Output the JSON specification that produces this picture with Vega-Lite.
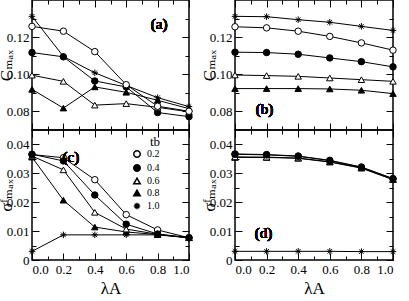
{
  "$schema": "https://vega.github.io/schema/vega-lite/v6.json",
  "padding": {"left": -4, "top": -2, "right": 4, "bottom": 0},
  "background": "white",
  "datasets": {
    "a": [
      {"lam":0,"tb":"1.0","v":0.1312},{"lam":0.2,"tb":"1.0","v":0.1096},{"lam":0.4,"tb":"1.0","v":0.1008},{"lam":0.6,"tb":"1.0","v":0.0940},{"lam":0.8,"tb":"1.0","v":0.0874},{"lam":1.0,"tb":"1.0","v":0.0826},
      {"lam":0,"tb":"0.8","v":0.0919},{"lam":0.2,"tb":"0.8","v":0.0818},{"lam":0.4,"tb":"0.8","v":0.0932},{"lam":0.6,"tb":"0.8","v":0.0903},{"lam":0.8,"tb":"0.8","v":0.0860},{"lam":1.0,"tb":"0.8","v":0.0815},
      {"lam":0,"tb":"0.4","v":0.1117},{"lam":0.2,"tb":"0.4","v":0.1094},{"lam":0.4,"tb":"0.4","v":0.0964},{"lam":0.6,"tb":"0.4","v":0.0932},{"lam":0.8,"tb":"0.4","v":0.0794},{"lam":1.0,"tb":"0.4","v":0.0772},
      {"lam":0,"tb":"0.6","v":0.0995},{"lam":0.2,"tb":"0.6","v":0.0962},{"lam":0.4,"tb":"0.6","v":0.0834},{"lam":0.6,"tb":"0.6","v":0.0842},{"lam":0.8,"tb":"0.6","v":0.0822},{"lam":1.0,"tb":"0.6","v":0.0798},
      {"lam":0,"tb":"0.2","v":0.1258},{"lam":0.2,"tb":"0.2","v":0.1232},{"lam":0.4,"tb":"0.2","v":0.1122},{"lam":0.6,"tb":"0.2","v":0.0944},{"lam":0.8,"tb":"0.2","v":0.0828},{"lam":1.0,"tb":"0.2","v":0.0801}
    ],
    "b": [
      {"lam":0,"tb":"1.0","v":0.1312},{"lam":0.2,"tb":"1.0","v":0.1310},{"lam":0.4,"tb":"1.0","v":0.1294},{"lam":0.6,"tb":"1.0","v":0.1280},{"lam":0.8,"tb":"1.0","v":0.1258},{"lam":1.0,"tb":"1.0","v":0.1236},
      {"lam":0,"tb":"0.8","v":0.0923},{"lam":0.2,"tb":"0.8","v":0.0923},{"lam":0.4,"tb":"0.8","v":0.0923},{"lam":0.6,"tb":"0.8","v":0.0921},{"lam":0.8,"tb":"0.8","v":0.0914},{"lam":1.0,"tb":"0.8","v":0.0896},
      {"lam":0,"tb":"0.6","v":0.0996},{"lam":0.2,"tb":"0.6","v":0.0993},{"lam":0.4,"tb":"0.6","v":0.0989},{"lam":0.6,"tb":"0.6","v":0.0980},{"lam":0.8,"tb":"0.6","v":0.0971},{"lam":1.0,"tb":"0.6","v":0.0962},
      {"lam":0,"tb":"0.4","v":0.1119},{"lam":0.2,"tb":"0.4","v":0.1117},{"lam":0.4,"tb":"0.4","v":0.1108},{"lam":0.6,"tb":"0.4","v":0.1088},{"lam":0.8,"tb":"0.4","v":0.1068},{"lam":1.0,"tb":"0.4","v":0.1040},
      {"lam":0,"tb":"0.2","v":0.1256},{"lam":0.2,"tb":"0.2","v":0.1250},{"lam":0.4,"tb":"0.2","v":0.1232},{"lam":0.6,"tb":"0.2","v":0.1204},{"lam":0.8,"tb":"0.2","v":0.1169},{"lam":1.0,"tb":"0.2","v":0.1130}
    ],
    "c": [
      {"lam":0,"tb":"1.0","v":0.0030},{"lam":0.2,"tb":"1.0","v":0.0087},{"lam":0.4,"tb":"1.0","v":0.0087},{"lam":0.6,"tb":"1.0","v":0.0087},{"lam":0.8,"tb":"1.0","v":0.0087},{"lam":1.0,"tb":"1.0","v":0.0077},
      {"lam":0,"tb":"0.8","v":0.0356},{"lam":0.2,"tb":"0.8","v":0.0207},{"lam":0.4,"tb":"0.8","v":0.0114},{"lam":0.6,"tb":"0.8","v":0.0097},{"lam":0.8,"tb":"0.8","v":0.0088},{"lam":1.0,"tb":"0.8","v":0.0077},
      {"lam":0,"tb":"0.6","v":0.0360},{"lam":0.2,"tb":"0.6","v":0.0312},{"lam":0.4,"tb":"0.6","v":0.0165},{"lam":0.6,"tb":"0.6","v":0.0107},{"lam":0.8,"tb":"0.6","v":0.0089},{"lam":1.0,"tb":"0.6","v":0.0077},
      {"lam":0,"tb":"0.2","v":0.0365},{"lam":0.2,"tb":"0.2","v":0.0354},{"lam":0.4,"tb":"0.2","v":0.0278},{"lam":0.6,"tb":"0.2","v":0.0157},{"lam":0.8,"tb":"0.2","v":0.0104},{"lam":1.0,"tb":"0.2","v":0.0077},
      {"lam":0,"tb":"0.4","v":0.0366},{"lam":0.2,"tb":"0.4","v":0.0343},{"lam":0.4,"tb":"0.4","v":0.0225},{"lam":0.6,"tb":"0.4","v":0.0124},{"lam":0.8,"tb":"0.4","v":0.0090},{"lam":1.0,"tb":"0.4","v":0.0077}
    ],
    "d": [
      {"lam":0,"tb":"1.0","v":0.0030},{"lam":0.2,"tb":"1.0","v":0.0030},{"lam":0.4,"tb":"1.0","v":0.0030},{"lam":0.6,"tb":"1.0","v":0.0030},{"lam":0.8,"tb":"1.0","v":0.0029},{"lam":1.0,"tb":"1.0","v":0.0029},
      {"lam":0,"tb":"0.8","v":0.0355},{"lam":0.2,"tb":"0.8","v":0.0355},{"lam":0.4,"tb":"0.8","v":0.0352},{"lam":0.6,"tb":"0.8","v":0.0339},{"lam":0.8,"tb":"0.8","v":0.0318},{"lam":1.0,"tb":"0.8","v":0.0278},
      {"lam":0,"tb":"0.6","v":0.0357},{"lam":0.2,"tb":"0.6","v":0.0356},{"lam":0.4,"tb":"0.6","v":0.0353},{"lam":0.6,"tb":"0.6","v":0.0340},{"lam":0.8,"tb":"0.6","v":0.0319},{"lam":1.0,"tb":"0.6","v":0.0279},
      {"lam":0,"tb":"0.2","v":0.0367},{"lam":0.2,"tb":"0.2","v":0.0365},{"lam":0.4,"tb":"0.2","v":0.0360},{"lam":0.6,"tb":"0.2","v":0.0345},{"lam":0.8,"tb":"0.2","v":0.0322},{"lam":1.0,"tb":"0.2","v":0.0282},
      {"lam":0,"tb":"0.4","v":0.0366},{"lam":0.2,"tb":"0.4","v":0.0364},{"lam":0.4,"tb":"0.4","v":0.0359},{"lam":0.6,"tb":"0.4","v":0.0344},{"lam":0.8,"tb":"0.4","v":0.0321},{"lam":1.0,"tb":"0.4","v":0.0281}
    ]
  },
  "columns": 2,
  "spacing": {"row": 0, "column": 46},
  "bounds": "flush",
  "resolve": {"legend": {"shape": "independent", "fill": "independent"}},
  "concat": [
    {
      "width": 157, "height": 130,
      "data": {"name": "a"},
      "resolve": {"axis": {"x": "independent", "y": "independent"}},
      "layer": [
        {"mark": {"type": "line", "color": "black", "strokeWidth": 1},
         "encoding": {
           "x": {"field": "lam", "type": "quantitative", "scale": {"domain": [0, 1], "nice": false, "padding": 0}, "axis": {"orient": "bottom", "values": [0,0.1,0.2,0.3,0.4,0.5,0.6,0.7,0.8,0.9,1], "labels": false, "title": null, "tickSize": {"condition": {"test": "round(datum.value*10)%2==1", "value": -4}, "value": -7}}},
           "y": {"field": "v", "type": "quantitative", "scale": {"domain": [0.07, 0.14], "nice": false, "padding": 0}, "axis": {"orient": "left", "values": [0.08,0.09,0.1,0.11,0.12,0.13], "title": "Cₘₐₓ", "titleX": -21, "titleBaseline": "alphabetic", "labelExpr": "round(datum.value*100)%2==1 ? '' : format(datum.value,'.2f')", "tickSize": {"condition": {"test": "round(datum.value*100)%2==1", "value": -4}, "value": -7}}},
           "detail": {"field": "tb"}}},
        {"mark": {"type": "point", "stroke": "black", "strokeWidth": 1, "size": 42, "opacity": 1},
         "encoding": {
           "x": {"field": "lam", "type": "quantitative", "scale": {"domain": [0, 1], "nice": false, "padding": 0}, "axis": {"orient": "top", "values": [0,0.1,0.2,0.3,0.4,0.5,0.6,0.7,0.8,0.9,1], "labels": false, "title": null, "tickSize": {"condition": {"test": "round(datum.value*10)%2==1", "value": -4}, "value": -7}}},
           "y": {"field": "v", "type": "quantitative", "scale": {"domain": [0.07, 0.14], "nice": false, "padding": 0}, "axis": {"orient": "right", "values": [0.08,0.09,0.1,0.11,0.12,0.13], "labels": false, "title": null, "tickSize": {"condition": {"test": "round(datum.value*100)%2==1", "value": -4}, "value": -7}}},
           "shape": {"field": "tb", "type": "nominal", "scale": {"domain": ["0.2","0.4","0.6","0.8","1.0"], "range": ["circle","circle","triangle-up","triangle-up","M0,-1L0,1M-1,0L1,0M-0.7,-0.7L0.7,0.7M-0.7,0.7L0.7,-0.7"]}, "legend": null},
           "fill": {"field": "tb", "type": "nominal", "scale": {"domain": ["0.2","0.4","0.6","0.8","1.0"], "range": ["white","black","white","black","black"]}, "legend": null}}},
        {"mark": {"type": "text", "font": "'Liberation Serif', 'Times New Roman', 'DejaVu Serif', serif", "fontSize": 15, "fontWeight": "normal", "color": "black"},
         "encoding": {"x": {"datum": 0.81, "type": "quantitative", "axis": null}, "y": {"datum": 0.127, "type": "quantitative", "axis": null}, "text": {"value": "(a)"}}}
      ]
    },
    {
      "width": 158, "height": 130,
      "data": {"name": "b"},
      "resolve": {"axis": {"x": "independent", "y": "independent"}},
      "layer": [
        {"mark": {"type": "line", "color": "black", "strokeWidth": 1},
         "encoding": {
           "x": {"field": "lam", "type": "quantitative", "scale": {"domain": [0, 1], "nice": false, "padding": 0}, "axis": {"orient": "bottom", "values": [0,0.1,0.2,0.3,0.4,0.5,0.6,0.7,0.8,0.9,1], "labels": false, "title": null, "tickSize": {"condition": {"test": "round(datum.value*10)%2==1", "value": -4}, "value": -7}}},
           "y": {"field": "v", "type": "quantitative", "scale": {"domain": [0.07, 0.14], "nice": false, "padding": 0}, "axis": {"orient": "left", "values": [0.08,0.09,0.1,0.11,0.12,0.13], "title": "Cₘₐₓ", "titleX": -21, "titleBaseline": "alphabetic", "labelExpr": "round(datum.value*100)%2==1 ? '' : format(datum.value,'.2f')", "tickSize": {"condition": {"test": "round(datum.value*100)%2==1", "value": -4}, "value": -7}}},
           "detail": {"field": "tb"}}},
        {"mark": {"type": "point", "stroke": "black", "strokeWidth": 1, "size": 42, "opacity": 1},
         "encoding": {
           "x": {"field": "lam", "type": "quantitative", "scale": {"domain": [0, 1], "nice": false, "padding": 0}, "axis": {"orient": "top", "values": [0,0.1,0.2,0.3,0.4,0.5,0.6,0.7,0.8,0.9,1], "labels": false, "title": null, "tickSize": {"condition": {"test": "round(datum.value*10)%2==1", "value": -4}, "value": -7}}},
           "y": {"field": "v", "type": "quantitative", "scale": {"domain": [0.07, 0.14], "nice": false, "padding": 0}, "axis": {"orient": "right", "values": [0.08,0.09,0.1,0.11,0.12,0.13], "labels": false, "title": null, "tickSize": {"condition": {"test": "round(datum.value*100)%2==1", "value": -4}, "value": -7}}},
           "shape": {"field": "tb", "type": "nominal", "scale": {"domain": ["0.2","0.4","0.6","0.8","1.0"], "range": ["circle","circle","triangle-up","triangle-up","M0,-1L0,1M-1,0L1,0M-0.7,-0.7L0.7,0.7M-0.7,0.7L0.7,-0.7"]}, "legend": null},
           "fill": {"field": "tb", "type": "nominal", "scale": {"domain": ["0.2","0.4","0.6","0.8","1.0"], "range": ["white","black","white","black","black"]}, "legend": null}}},
        {"mark": {"type": "text", "font": "'Liberation Serif', 'Times New Roman', 'DejaVu Serif', serif", "fontSize": 15, "fontWeight": "normal", "color": "black"},
         "encoding": {"x": {"datum": 0.187, "type": "quantitative", "axis": null}, "y": {"datum": 0.0813, "type": "quantitative", "axis": null}, "text": {"value": "(b)"}}}
      ]
    },
    {
      "width": 157, "height": 130,
      "data": {"name": "c"},
      "resolve": {"axis": {"x": "independent", "y": "independent"}},
      "layer": [
        {"mark": {"type": "line", "color": "black", "strokeWidth": 1},
         "encoding": {
           "x": {"field": "lam", "type": "quantitative", "scale": {"domain": [0, 1], "nice": false, "padding": 0}, "axis": {"orient": "bottom", "values": [0,0.1,0.2,0.3,0.4,0.5,0.6,0.7,0.8,0.9,1], "title": "λA", "titleFontSize": 17, "labelExpr": "round(datum.value*10)%2==1 ? '' : format(datum.value,'.1f')", "tickSize": {"condition": {"test": "round(datum.value*10)%2==1", "value": -4}, "value": -7}}},
           "y": {"field": "v", "type": "quantitative", "scale": {"domain": [0, 0.045], "nice": false, "padding": 0}, "axis": {"orient": "left", "values": [0,0.005,0.01,0.015,0.02,0.025,0.03,0.035,0.04], "title": "σᶠₘₐₓ", "titleX": -21, "titleBaseline": "alphabetic", "labelExpr": "round(datum.value*1000)%10==5 ? '' : datum.value==0 ? '0' : format(datum.value,'.2f')", "tickSize": {"condition": {"test": "round(datum.value*1000)%10==5", "value": -4}, "value": -7}}},
           "detail": {"field": "tb"}}},
        {"mark": {"type": "point", "stroke": "black", "strokeWidth": 1, "size": 42, "opacity": 1},
         "encoding": {
           "x": {"field": "lam", "type": "quantitative", "scale": {"domain": [0, 1], "nice": false, "padding": 0}, "axis": {"orient": "top", "values": [0,0.1,0.2,0.3,0.4,0.5,0.6,0.7,0.8,0.9,1], "labels": false, "title": null, "tickSize": {"condition": {"test": "round(datum.value*10)%2==1", "value": -4}, "value": -7}}},
           "y": {"field": "v", "type": "quantitative", "scale": {"domain": [0, 0.045], "nice": false, "padding": 0}, "axis": {"orient": "right", "values": [0,0.005,0.01,0.015,0.02,0.025,0.03,0.035,0.04], "labels": false, "title": null, "tickSize": {"condition": {"test": "round(datum.value*1000)%10==5", "value": -4}, "value": -7}}},
           "shape": {"field": "tb", "type": "nominal", "scale": {"domain": ["0.2","0.4","0.6","0.8","1.0"], "range": ["circle","circle","triangle-up","triangle-up","M0,-1L0,1M-1,0L1,0M-0.7,-0.7L0.7,0.7M-0.7,0.7L0.7,-0.7"]},
             "legend": {"orient": "none", "legendX": 100, "legendY": 6, "title": "tb", "titleFont": "'Liberation Serif', 'Times New Roman', 'DejaVu Serif', serif", "titleFontSize": 13, "titleFontWeight": "normal", "titleColor": "black", "titleAnchor": "end", "titlePadding": 0, "labelFont": "'Liberation Serif', 'Times New Roman', 'DejaVu Serif', serif", "labelFontSize": 10, "labelColor": "black", "labelOffset": 5, "rowPadding": 0, "symbolSize": 42,
               "encode": {"symbols": {"size": {"value": 42}, "stroke": {"value": "black"}, "strokeWidth": {"value": 1}}}}},
           "fill": {"field": "tb", "type": "nominal", "scale": {"domain": ["0.2","0.4","0.6","0.8","1.0"], "range": ["white","black","white","black","black"]},
             "legend": {"orient": "none", "legendX": 100, "legendY": 6, "title": "tb", "titleFont": "'Liberation Serif', 'Times New Roman', 'DejaVu Serif', serif", "titleFontSize": 13, "titleFontWeight": "normal", "titleColor": "black", "titleAnchor": "end", "titlePadding": 0, "labelFont": "'Liberation Serif', 'Times New Roman', 'DejaVu Serif', serif", "labelFontSize": 10, "labelColor": "black", "labelOffset": 5, "rowPadding": 0, "symbolSize": 42,
               "encode": {"symbols": {"size": {"value": 42}, "stroke": {"value": "black"}, "strokeWidth": {"value": 1}}}}}}},
        {"mark": {"type": "text", "font": "'Liberation Serif', 'Times New Roman', 'DejaVu Serif', serif", "fontSize": 15, "fontWeight": "normal", "color": "black"},
         "encoding": {"x": {"datum": 0.248, "type": "quantitative", "axis": null}, "y": {"datum": 0.0358, "type": "quantitative", "axis": null}, "text": {"value": "(c)"}}}
      ]
    },
    {
      "width": 158, "height": 130,
      "data": {"name": "d"},
      "resolve": {"axis": {"x": "independent", "y": "independent"}},
      "layer": [
        {"mark": {"type": "line", "color": "black", "strokeWidth": 1},
         "encoding": {
           "x": {"field": "lam", "type": "quantitative", "scale": {"domain": [0, 1], "nice": false, "padding": 0}, "axis": {"orient": "bottom", "values": [0,0.1,0.2,0.3,0.4,0.5,0.6,0.7,0.8,0.9,1], "title": "λA", "titleFontSize": 17, "labelExpr": "round(datum.value*10)%2==1 ? '' : format(datum.value,'.1f')", "tickSize": {"condition": {"test": "round(datum.value*10)%2==1", "value": -4}, "value": -7}}},
           "y": {"field": "v", "type": "quantitative", "scale": {"domain": [0, 0.045], "nice": false, "padding": 0}, "axis": {"orient": "left", "values": [0,0.005,0.01,0.015,0.02,0.025,0.03,0.035,0.04], "title": "σᶠₘₐₓ", "titleX": -21, "titleBaseline": "alphabetic", "labelExpr": "round(datum.value*1000)%10==5 ? '' : datum.value==0 ? '0' : format(datum.value,'.2f')", "tickSize": {"condition": {"test": "round(datum.value*1000)%10==5", "value": -4}, "value": -7}}},
           "detail": {"field": "tb"}}},
        {"mark": {"type": "point", "stroke": "black", "strokeWidth": 1, "size": 42, "opacity": 1},
         "encoding": {
           "x": {"field": "lam", "type": "quantitative", "scale": {"domain": [0, 1], "nice": false, "padding": 0}, "axis": {"orient": "top", "values": [0,0.1,0.2,0.3,0.4,0.5,0.6,0.7,0.8,0.9,1], "labels": false, "title": null, "tickSize": {"condition": {"test": "round(datum.value*10)%2==1", "value": -4}, "value": -7}}},
           "y": {"field": "v", "type": "quantitative", "scale": {"domain": [0, 0.045], "nice": false, "padding": 0}, "axis": {"orient": "right", "values": [0,0.005,0.01,0.015,0.02,0.025,0.03,0.035,0.04], "labels": false, "title": null, "tickSize": {"condition": {"test": "round(datum.value*1000)%10==5", "value": -4}, "value": -7}}},
           "shape": {"field": "tb", "type": "nominal", "scale": {"domain": ["0.2","0.4","0.6","0.8","1.0"], "range": ["circle","circle","triangle-up","triangle-up","M0,-1L0,1M-1,0L1,0M-0.7,-0.7L0.7,0.7M-0.7,0.7L0.7,-0.7"]}, "legend": null},
           "fill": {"field": "tb", "type": "nominal", "scale": {"domain": ["0.2","0.4","0.6","0.8","1.0"], "range": ["white","black","white","black","black"]}, "legend": null}}},
        {"mark": {"type": "text", "font": "'Liberation Serif', 'Times New Roman', 'DejaVu Serif', serif", "fontSize": 15, "fontWeight": "normal", "color": "black"},
         "encoding": {"x": {"datum": 0.18, "type": "quantitative", "axis": null}, "y": {"datum": 0.00935, "type": "quantitative", "axis": null}, "text": {"value": "(d)"}}}
      ]
    }
  ],
  "config": {
    "view": {"stroke": "black", "strokeWidth": 1.5},
    "axis": {"domain": false, "grid": false, "labelFont": "'Liberation Serif', 'Times New Roman', 'DejaVu Serif', serif", "labelFontSize": 13, "labelColor": "black", "tickColor": "black", "tickWidth": 1, "titleFont": "'Liberation Serif', 'Times New Roman', 'DejaVu Serif', serif", "titleFontWeight": "normal", "titleColor": "black", "titleFontSize": 17, "labelPadding": 10}
  }
}
